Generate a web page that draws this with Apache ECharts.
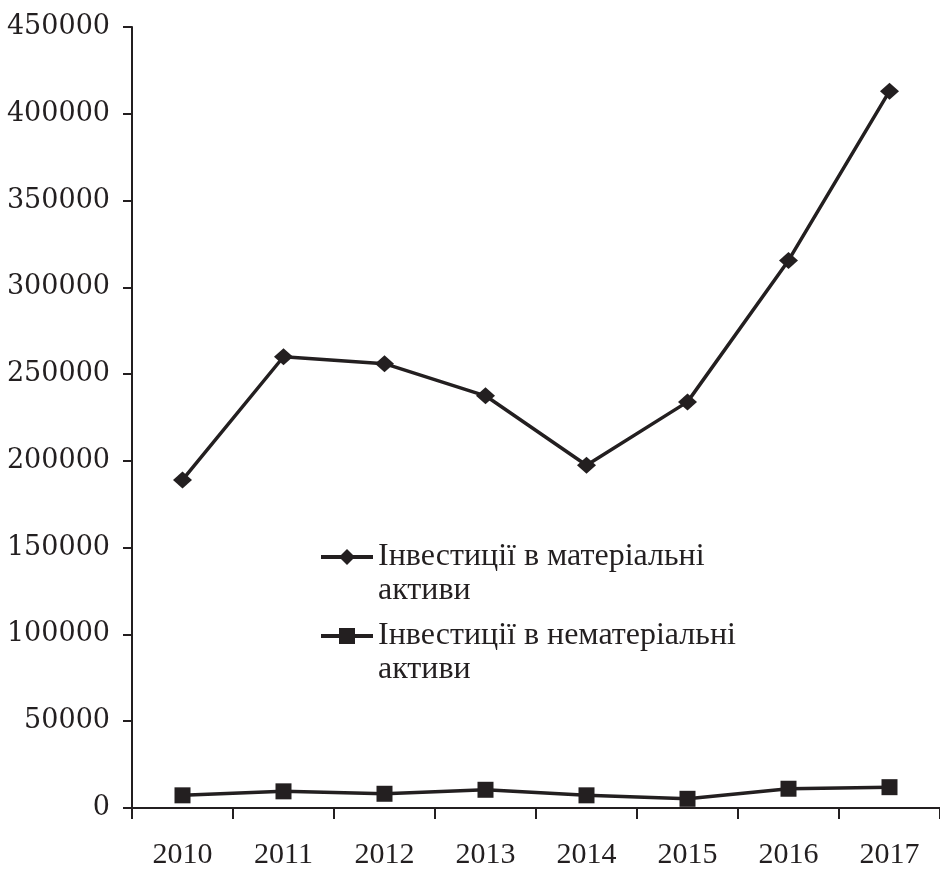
<!DOCTYPE html>
<html>
<head>
<meta charset="utf-8">
<script src="https://cdn.jsdelivr.net/npm/echarts@6/dist/echarts.min.js"></script>
<style>
  html, body { margin: 0; padding: 0; background: #fff; }
  #chart { width: 940px; height: 870px; }
</style>
</head>
<body>
<div id="chart"></div>
<script>
// categories and values
const years = ['2010', '2011', '2012', '2013', '2014', '2015', '2016', '2017'];
const tangible = [189000, 260000, 256000, 237500, 197500, 234000, 315500, 413000];
const intangible = [7300, 9600, 8200, 10500, 7300, 5300, 11100, 12000];
const seriesNames = ['Інвестиції в матеріальні\nактиви', 'Інвестиції в нематеріальні\nактиви'];

const ink = '#231f20';
const font = 'Liberation Serif';

const chart = echarts.init(document.getElementById('chart'));

chart.setOption({
  animation: false,
  backgroundColor: '#fff',
  grid: {
    left: 132,
    right: -6,
    top: 27,
    bottom: 59
  },
  legend: {
    orient: 'vertical',
    left: 314,
    top: 501,
    itemWidth: 52,
    itemHeight: 20,
    itemGap: -23,
    data: seriesNames,
    // empty first line so the icon sits level with the first text line
    formatter: name => '\n' + name,
    lineStyle: { width: 4, color: ink },
    textStyle: {
      fontFamily: font,
      fontSize: 32,
      color: ink,
      lineHeight: 34
    }
  },
  xAxis: {
    type: 'category',
    data: years,
    boundaryGap: true,
    axisLine: { lineStyle: { color: ink, width: 2 } },
    axisTick: { show: true, length: 11, lineStyle: { color: ink, width: 2 } },
    axisLabel: {
      fontFamily: font,
      fontSize: 30,
      color: ink,
      margin: 32
    },
    splitLine: { show: false }
  },
  yAxis: {
    type: 'value',
    min: 0,
    max: 450000,
    interval: 50000,
    axisLine: { show: true, lineStyle: { color: ink, width: 2 } },
    axisTick: { show: true, length: 9, lineStyle: { color: ink, width: 2 } },
    axisLabel: {
      fontFamily: 'DejaVu Serif',
      fontSize: 27,
      color: ink,
      margin: 22,
      formatter: v => String(v)
    },
    splitLine: { show: false }
  },
  series: [
    {
      name: seriesNames[0],
      type: 'line',
      data: tangible,
      symbol: 'diamond',
      symbolSize: [19, 17],
      itemStyle: { color: ink },
      lineStyle: { color: ink, width: 3.5 }
    },
    {
      name: seriesNames[1],
      type: 'line',
      data: intangible,
      symbol: 'rect',
      symbolSize: 16,
      itemStyle: { color: ink },
      lineStyle: { color: ink, width: 3.5 }
    }
  ]
});
</script>
</body>
</html>
